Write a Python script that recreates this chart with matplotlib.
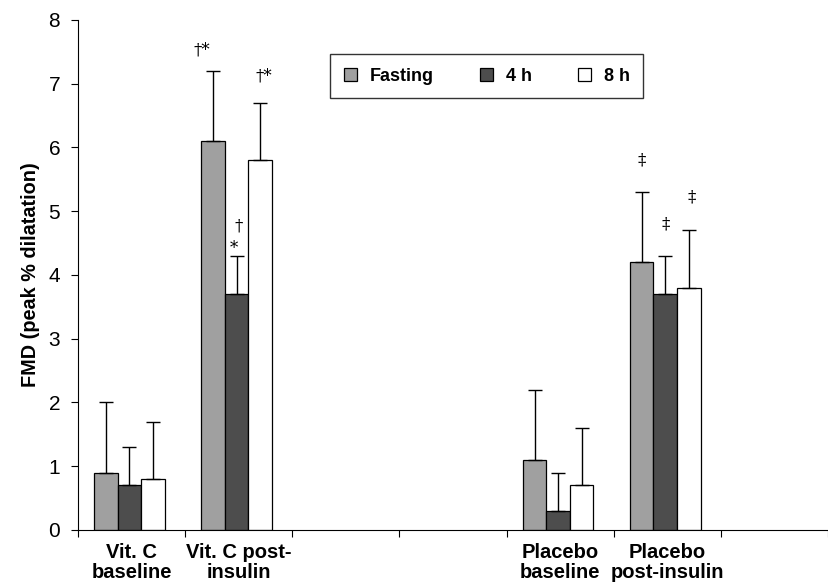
import matplotlib
matplotlib.use("Agg")
import matplotlib.pyplot as plt
import numpy as np

plt.rcParams["font.family"] = ["Liberation Sans", "DejaVu Sans"]

categories = ["Vit. C\nbaseline", "Vit. C post-\ninsulin", "", "",
              "Placebo\nbaseline", "Placebo\npost-insulin", ""]
series = ["Fasting", "4 h", "8 h"]
# values per series across the 7 category slots (nan = empty slot)
fasting = [0.9, 6.1, np.nan, np.nan, 1.1, 4.2, np.nan]
four_h = [0.7, 3.7, np.nan, np.nan, 0.3, 3.7, np.nan]
eight_h = [0.8, 5.8, np.nan, np.nan, 0.7, 3.8, np.nan]
err_fasting = [1.1, 1.1, 0, 0, 1.1, 1.1, 0]
err_four_h = [0.6, 0.6, 0, 0, 0.6, 0.6, 0]
err_eight_h = [0.9, 0.9, 0, 0, 0.9, 0.9, 0]
# significance marks: (category, series index, label, y centre)
marks = [(1, 0, "†*", 7.52), (1, 2, "†*", 7.12), (1, 1, "*", 4.42),
         (1, 1, "†", 4.77), (5, 0, "‡", 5.8), (5, 1, "‡", 4.8), (5, 2, "‡", 5.22)]
mark_dx = [-0.1, 0.035, -0.025, 0.02, 0.0, 0.0, 0.03]

colors = ["#a0a0a0", "#4d4d4d", "#ffffff"]
fig = plt.figure(figsize=(8.29, 5.83), dpi=100)
ax = fig.add_axes([0.094, 0.091, 0.905, 0.875])

x = np.arange(len(categories))
w = 0.22
offs = [-0.24, -0.02, 0.20]
vals = [fasting, four_h, eight_h]
errs = [err_fasting, err_four_h, err_eight_h]
for i in range(3):
    v = np.array(vals[i])
    ok = ~np.isnan(v)
    ax.bar(x[ok] + offs[i], v[ok], width=w, color=colors[i], edgecolor="black",
           linewidth=0.9, label=series[i], zorder=2)
    ax.errorbar(x[ok] + offs[i], v[ok], yerr=[np.zeros(ok.sum()), np.array(errs[i])[ok]],
                fmt="none", ecolor="black", elinewidth=1.0, capsize=5, capthick=1.0, zorder=3)

for (c, s, lab, y), d in zip(marks, mark_dx):
    ax.text(x[c] + offs[s] + d, y, lab, ha="center", va="center",
            fontsize=12, family=["DejaVu Serif"])

ax.set_xlim(-0.5, 6.383)
ax.set_ylim(0, 8)
ax.set_yticks(range(0, 9))
ax.set_xticks(np.arange(-0.5, 7, 1))
ax.set_xticklabels([])
ax.set_xticks(x, minor=True)
ax.set_xticklabels(categories, minor=True, fontsize=14.5, fontweight="bold", linespacing=1.05)
ax.tick_params(axis="x", which="minor", length=0, pad=9.5)
ax.tick_params(axis="x", which="major", direction="out", length=5)
ax.tick_params(axis="y", direction="out", length=5, labelsize=15, pad=7.8)
ax.spines["top"].set_visible(False)
ax.spines["right"].set_visible(False)
ax.set_ylabel("FMD (peak % dilatation)", fontsize=14.3, fontweight="bold", labelpad=6)

leg = ax.legend(loc="upper left", bbox_to_anchor=(0.336, 0.933), borderaxespad=0,
                ncol=3, frameon=True, fancybox=False, edgecolor="black",
                prop={"weight": "bold", "size": 13},
                handlelength=0.72, handleheight=0.72, handletextpad=0.72,
                columnspacing=2.55, borderpad=0.75)
leg.get_frame().set_linewidth(1.0)

fig.savefig("out.png", dpi=100)
